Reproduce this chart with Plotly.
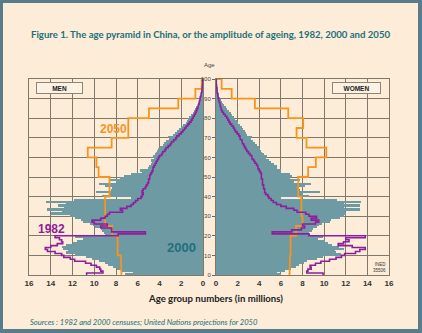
import numpy as np
import plotly.graph_objects as go

# ---------------- data (millions per single year of age) ----------------
ages = list(range(100))

men_2000 = [7.2, 6.4, 7.5, 7.9, 8.3, 8.7, 9.0, 9.6, 10.2, 10.8,
            11.8, 12.6, 12.4, 12.9, 13.0, 12.6, 12.0, 11.6, 11.0, 11.8,
            9.0, 9.1, 9.3, 9.4, 9.9, 10.1, 10.4, 11.0, 11.2, 11.8,
            12.2, 14.0, 13.0, 14.3, 12.8, 13.3, 12.6, 14.4, 11.9, 6.6,
            9.3, 8.6, 9.8, 8.5, 8.4, 9.0, 9.6, 8.0, 8.6, 7.6,
            7.3, 6.6, 5.6, 5.8, 5.1, 5.0, 4.8, 4.7, 4.8, 4.5,
            4.6, 4.4, 4.3, 4.2, 4.1, 4.0, 3.7, 3.6, 3.4, 3.1,
            3.2, 2.8, 2.6, 2.4, 2.2, 2.0, 1.8, 1.6, 1.5, 1.4,
            1.3, 1.1, 0.95, 0.85, 0.7, 0.6, 0.5, 0.45, 0.38, 0.32,
            0.27, 0.22, 0.17, 0.13, 0.1, 0.08, 0.06, 0.05, 0.04, 0.03]

women_2000 = [6.0, 5.6, 6.4, 6.9, 7.4, 7.7, 8.1, 8.4, 9.3, 9.9,
              11.6, 11.1, 11.0, 11.8, 11.4, 10.7, 10.4, 10.1, 9.4, 9.9,
              8.7, 8.6, 8.9, 9.0, 9.3, 9.5, 9.8, 10.5, 10.6, 11.5,
              11.8, 12.0, 11.9, 13.3, 11.8, 13.3, 11.8, 13.4, 11.2, 6.0,
              8.6, 8.0, 9.6, 7.8, 7.6, 8.2, 8.8, 7.2, 7.8, 6.8,
              7.0, 6.8, 6.0, 6.0, 5.6, 5.6, 5.4, 5.1, 4.9, 4.6,
              4.7, 4.4, 4.3, 4.2, 4.1, 4.0, 3.8, 3.6, 3.4, 3.2,
              3.3, 2.9, 2.8, 2.7, 2.5, 2.4, 2.2, 2.0, 1.9, 1.8,
              1.7, 1.5, 1.35, 1.2, 1.0, 0.9, 0.75, 0.65, 0.55, 0.45,
              0.37, 0.3, 0.24, 0.19, 0.15, 0.12, 0.09, 0.07, 0.05, 0.04]

men_1982 = [10.7, 9.2, 9.4, 9.5, 9.8, 10.3, 10.8, 11.8, 12.2, 12.8,
            13.0, 13.6, 14.3, 14.5, 14.0, 13.4, 12.9, 13.0, 13.2, 13.6,
            7.8, 5.3, 8.4, 8.4, 9.4, 8.8, 10.0, 10.2, 9.4, 9.0,
            8.8, 8.6, 7.4, 7.6, 7.0, 6.6, 6.4, 6.2, 6.0, 5.7,
            5.6, 5.5, 5.6, 5.5, 5.3, 5.2, 5.1, 5.0, 5.0, 4.9,
            4.9, 4.8, 4.7, 4.6, 4.6, 4.5, 4.4, 4.3, 4.2, 4.1,
            4.0, 3.8, 3.7, 3.5, 3.4, 3.2, 3.0, 2.9, 2.7, 2.5,
            2.4, 2.2, 2.0, 1.85, 1.7, 1.55, 1.4, 1.25, 1.1, 1.0,
            0.9, 0.8, 0.7, 0.62, 0.55, 0.48, 0.42, 0.37, 0.32, 0.28,
            0.25, 0.2, 0.16, 0.12, 0.09, 0.07, 0.05, 0.04, 0.03, 0.02]

women_1982 = [9.9, 8.4, 8.5, 8.8, 8.7, 9.2, 9.7, 10.5, 11.1, 11.6,
              11.9, 12.9, 13.3, 13.8, 12.6, 11.3, 11.8, 12.3, 12.0, 13.8,
              8.6, 5.2, 7.0, 7.9, 8.2, 8.0, 9.2, 9.5, 8.8, 9.3,
              8.6, 8.3, 7.5, 7.2, 6.5, 6.0, 5.6, 5.3, 5.1, 4.9,
              4.8, 4.6, 4.5, 4.5, 4.4, 4.4, 4.3, 4.3, 4.3, 4.2,
              4.2, 4.2, 4.1, 4.0, 3.9, 3.85, 3.75, 3.6, 3.5, 3.35,
              3.3, 3.15, 3.0, 2.85, 2.75, 2.65, 2.55, 2.45, 2.4, 2.25,
              2.2, 2.1, 1.95, 1.8, 1.7, 1.6, 1.45, 1.3, 1.2, 1.1,
              1.0, 0.85, 0.7, 0.58, 0.5, 0.44, 0.4, 0.36, 0.3, 0.25,
              0.2, 0.17, 0.14, 0.11, 0.09, 0.07, 0.05, 0.04, 0.03, 0.02]

# 2050 projection, 5-year groups (average per single year)
group_starts = list(range(0, 100, 5))
men_2050 = [7.5, 7.55, 7.85, 7.85, 8.35, 9.0, 9.0, 9.0, 8.6, 8.6,
            9.6, 9.8, 10.6, 8.4, 6.87, 6.87, 4.97, 2.27, 0.7, 0.12]
women_2050 = [6.8, 6.85, 6.9, 6.9, 7.4, 8.0, 7.9, 7.9, 7.6, 7.6,
              8.52, 9.23, 10.2, 8.37, 7.45, 8.06, 6.68, 3.6, 1.45, 0.52]

x_ticks = [0, 2, 4, 6, 8, 10, 12, 14, 16]
y_ticks = [0, 10, 20, 30, 40, 50, 60, 70, 80, 90, 100]

# ---------------- styling ----------------
BORDER = '#587c89'
CREAM = '#fcecd8'
BAR = '#6d9aa3'
GRID = '#7f786b'
PURPLE = '#8e1f9c'
ORANGE = '#f7941d'
TEAL_TXT = '#22707a'
SANS = 'Liberation Sans, Arial, sans-serif'
HUMAN = 'Lato, Open Sans, sans-serif'

W, H = 422, 333
ML, MR, MT, MB = 29, 33, 79, 58
PW = W - ML - MR
PH = H - MT - MB


def px(x):
    return (x - ML) / PW


def py(y):
    return (H - MB - y) / PH


def step_outline(values, width):
    v = np.asarray(values, dtype=float)
    edges = np.arange(len(v) + 1) * width
    xs = np.repeat(v, 2)
    ys = np.repeat(edges, 2)[1:-1]
    xs = np.append(xs, 0.0)
    ys = np.append(ys, edges[-1])
    return xs, ys


fig = go.Figure()

bar_y = [a + 0.5 for a in ages]
fig.add_trace(go.Bar(x=men_2000, y=bar_y, orientation='h', width=1,
                     marker=dict(color=BAR, line=dict(width=0)),
                     xaxis='x', yaxis='y'))
fig.add_trace(go.Bar(x=women_2000, y=bar_y, orientation='h', width=1,
                     marker=dict(color=BAR, line=dict(width=0)),
                     xaxis='x2', yaxis='y2'))

for vals, ax, ay in [(men_2050, 'x', 'y'), (women_2050, 'x2', 'y2')]:
    xs, ys = step_outline(vals, 5)
    fig.add_trace(go.Scatter(x=xs, y=ys, mode='lines',
                             line=dict(color=ORANGE, width=1.8),
                             xaxis=ax, yaxis=ay))

for vals, ax, ay in [(men_1982, 'x', 'y'), (women_1982, 'x2', 'y2')]:
    xs, ys = step_outline(vals, 1)
    fig.add_trace(go.Scatter(x=xs, y=ys, mode='lines',
                             line=dict(color=PURPLE, width=1.6),
                             xaxis=ax, yaxis=ay))

axis_common = dict(showgrid=True, gridcolor=GRID, gridwidth=1,
                   showline=True, linecolor=GRID, linewidth=1, mirror=True,
                   zeroline=False, fixedrange=True)

fig.update_layout(
    width=W, height=H,
    margin=dict(l=ML, r=MR, t=MT, b=MB, pad=0),
    paper_bgcolor=BORDER, plot_bgcolor=CREAM,
    showlegend=False, bargap=0, barmode='overlay',
    xaxis=dict(domain=[px(29), px(203)], range=[16, 0], tickvals=x_ticks,
               ticktext=[str(t) for t in x_ticks], ticks='',
               tickfont=dict(family=SANS, size=8, color='#333333', weight='bold'),
               anchor='y', **axis_common),
    xaxis2=dict(domain=[px(216), px(389)], range=[0, 16], tickvals=x_ticks,
                ticktext=[str(t) for t in x_ticks], ticks='',
                tickfont=dict(family=SANS, size=8, color='#333333', weight='bold'),
                anchor='y2', **axis_common),
    yaxis=dict(domain=[0, 1], range=[0, 100], tickvals=y_ticks,
               showticklabels=False, anchor='x', **axis_common),
    yaxis2=dict(domain=[0, 1], range=[0, 100], tickvals=y_ticks,
                ticktext=[str(t) for t in y_ticks], side='left',
                ticks='outside', ticklen=3, tickcolor='#666666',
                tickfont=dict(family=SANS, size=6, color='#444444'),
                anchor='x2', matches='y', **axis_common),
)

fig.add_shape(type='rect', xref='paper', yref='paper',
              x0=px(3), x1=px(418), y0=py(329), y1=py(3),
              fillcolor=CREAM, line=dict(width=0), layer='below')

annotations = [
    dict(text='Figure 1. The age pyramid in China, or the amplitude of ageing, 1982, 2000 and 2050',
         x=px(211), y=py(35), font=dict(family=HUMAN, size=9.6, color=TEAL_TXT, weight='bold')),
    dict(text='Age', x=px(209), y=py(65),
         font=dict(family=SANS, size=6, color='#444444')),
    dict(text='MEN', x=px(59.5), y=py(88), width=45, height=10,
         bordercolor='#8c8678', borderwidth=1, bgcolor='#fdf1e2', borderpad=0,
         font=dict(family=SANS, size=6.5, color='#222222', weight='bold')),
    dict(text='WOMEN', x=px(356.5), y=py(88), width=47, height=10,
         bordercolor='#8c8678', borderwidth=1, bgcolor='#fdf1e2', borderpad=0,
         font=dict(family=SANS, size=6.5, color='#222222', weight='bold')),
    dict(text='2050', x=px(113), y=py(129),
         font=dict(family=SANS, size=12, color=ORANGE, weight='bold')),
    dict(text='1982', x=px(51), y=py(229),
         font=dict(family=SANS, size=12, color=PURPLE, weight='bold')),
    dict(text='2000', x=px(181), y=py(247),
         font=dict(family=SANS, size=13, color=TEAL_TXT, weight='bold')),
    dict(text='INED<br>35506', x=px(388), y=py(267), xanchor='right',
         align='right', font=dict(family=SANS, size=4.5, color='#333333')),
    dict(text='Age group numbers (in millions)', x=px(215), y=py(298),
         font=dict(family=HUMAN, size=9.6, color='#222222', weight='bold')),
    dict(text='<i>Sources : 1982 and 2000 censuses; United Nations projections for 2050</i>',
         x=px(28), y=py(322), xanchor='left',
         font=dict(family=HUMAN, size=7.6, color=TEAL_TXT)),
]
for a in annotations:
    a.setdefault('xref', 'paper')
    a.setdefault('yref', 'paper')
    a.setdefault('showarrow', False)
    a.setdefault('xanchor', 'center')
    a.setdefault('yanchor', 'middle')
    fig.add_annotation(**a)

fig.write_html('out.html', config={'displayModeBar': False})
